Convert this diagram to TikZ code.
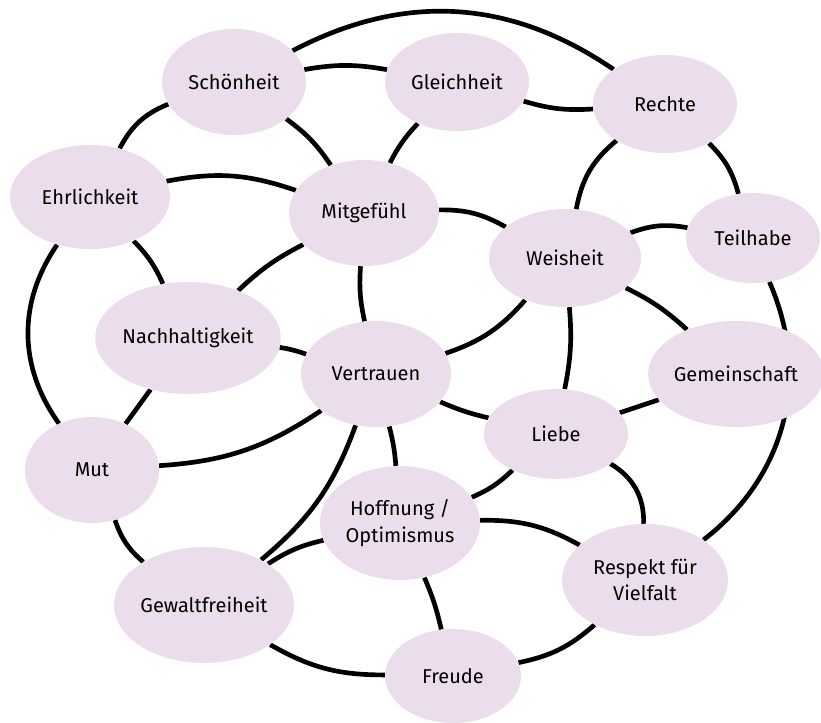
\documentclass[tikz,border=0pt]{standalone}
\usepackage{fontspec}
\setmainfont{Fira Sans}
\usepackage{tikz}
\usetikzlibrary{shapes.geometric, backgrounds}
\definecolor{cB}{RGB}{236,221,236}

\begin{document}
\begin{tikzpicture}[x=0.75pt, y=-0.75pt,
                    link/.style={line width=3.5pt},
                    blob/.style 2 args={ellipse, fill=cB, draw=none, inner sep=0pt, align=center,
                      minimum width=#1, minimum height=#2, font=\fontsize{15}{20}\selectfont}]
    \useasboundingbox (0,0) rectangle (821,722);

    % Defining the values
    \node[blob={108pt}{79.5pt}]   (schoen)  at (234,82)  {Schönheit};
    \node[blob={108pt}{73.5pt}]   (gleich)  at (457,82)  {Gleichheit};
    \node[blob={108pt}{73.5pt}]   (rechte)  at (665,104) {Rechte};
    \node[blob={120pt}{78pt}]     (ehrlich) at (90,197)  {Ehrlichkeit};
    \node[blob={112.5pt}{79.5pt}] (mitgef)  at (364,213) {Mitgefühl};
    \node[blob={114pt}{73.5pt}]   (weis)    at (565,258) {Weisheit};
    \node[blob={100.5pt}{67.5pt}] (teil)    at (753,238) {Teilhabe};
    \node[blob={124.5pt}{84pt}]   (nach)    at (188,338) {Nachhaltigkeit};
    \node[blob={112.5pt}{79.5pt}] (vertr)   at (376,374) {Vertrauen};
    \node[blob={126pt}{79.5pt}]   (gemein)  at (736,374) {Gemeinschaft};
    \node[blob={108pt}{67.5pt}]   (liebe)   at (556,434) {Liebe};
    \node[blob={100.5pt}{79.5pt}] (mut)     at (92,470)  {Mut};
    \node[blob={120pt}{85.5pt}]   (hoff)    at (400,523) {Hoffnung /\\Optimismus};
    \node[blob={124.5pt}{84pt}]   (respekt) at (645,580) {Respekt für\\Vielfalt};
    \node[blob={129pt}{87pt}]     (gewalt)  at (204,605) {Gewaltfreiheit};
    \node[blob={102pt}{70.5pt}]   (freude)  at (453,676) {Freude};

    % Links behind the values
    \begin{pgfonlayer}{background}
    \path[link]
    (schoen) edge [bend left=31] (rechte)
             edge [bend left=10] (gleich)
             edge [bend right=20] (ehrlich)
             edge [bend left=10] (mitgef)
    (gleich) edge [bend right=10] (rechte)
             edge [bend right=8] (mitgef)
    (rechte) edge [bend right=20] (weis)
             edge [bend left=15] (teil)
    (ehrlich) edge [bend left=15] (mitgef)
              edge [bend left=10] (nach)
              edge [bend right=35] (mut)
    (mitgef) edge [bend left=15] (weis)
             edge [bend right=8] (nach)
             edge [bend right=8] (vertr)
    (weis) edge [bend left=15] (teil)
           edge [bend left=15] (vertr)
           edge [bend left=8] (gemein)
           edge [bend left=8] (liebe)
    (teil) edge [bend left=38] (respekt)
    (nach) edge [bend left=5] (vertr)
           edge (mut)
    (vertr) edge [bend left=15] (mut)
            edge [bend right=5] (liebe)
            edge [bend left=5] (hoff)
            edge [bend left=15] (gewalt)
    (gemein) edge (liebe)
    (liebe) edge [bend left=10] (hoff)
            edge [bend left=30] (respekt)
    (mut) edge [bend right=15] (gewalt)
    (hoff) edge [bend right=10] (gewalt)
           edge [bend left=15] (respekt)
           edge [bend left=5] (freude)
    (gewalt) edge [bend right=15] (freude)
    (freude) edge [bend right=15] (respekt);
    \end{pgfonlayer}

\end{tikzpicture}
\end{document}
